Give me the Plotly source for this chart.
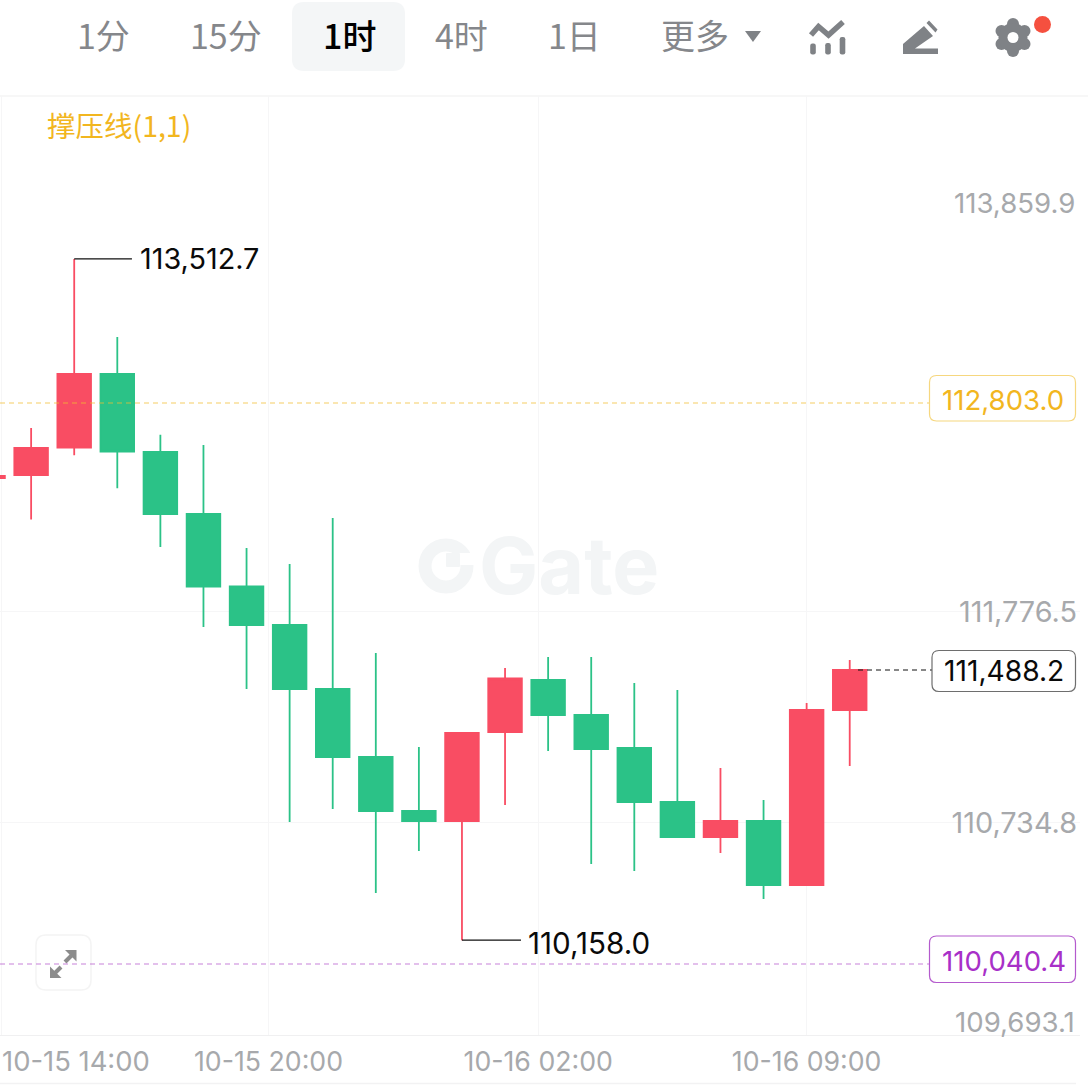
import plotly.graph_objects as go

# ---- data ----
candle_index = list(range(21))
open_p  = [112433.7,112448.4,112583.9,112945.8,112561.7,112256.4,111899.4,111709.8,111394.6,111059.8,110793.8,110744.6,111182.9,111438.9,111266.6,111104.1,110838.2,110665.8,110744.6,110429.4,111291.2]
close_p = [112443.5,112581.4,112945.8,112564.2,112256.4,111899.4,111709.8,111394.6,111059.8,110793.8,110744.6,111177.9,111446.3,111266.6,111099.1,110838.2,110665.8,110744.6,110429.4,111291.2,111488.2]
high_p  = [112443.5,112679.9,113512.7,113128.0,112646.9,112596.2,112089.0,112010.2,112236.7,111571.9,111109.0,111177.9,111498.0,111552.2,111552.2,111424.2,111389.7,111005.6,110848.0,111325.7,111537.4]
low_p   = [112433.7,112229.3,112545.4,112382.9,112093.9,111699.9,111394.6,110739.7,110803.7,110390.0,110596.9,110158.0,110823.4,111089.3,110532.8,110498.4,110665.8,110587.0,110360.4,110429.4,111015.4]

y_tick_values = [113859.9, 111776.5, 110734.8, 109693.1]
y_tick_labels = ["", "111,776.5", "110,734.8", ""]
x_tick_values = [0.32, 6.51, 12.77, 19.0]
x_tick_labels = ["", "10-15 20:00", "10-16 02:00", "10-16 09:00"]
resistance = 112803.0
support = 110040.4
last_price = 111488.2
tabs = ["1分", "15分", "4时", "1日", "更多"]

# ---- colours / layout constants ----
UP, DOWN = "#F94D63", "#2BC287"
GRAY, TAB = "#A7A9AC", "#85878B"
ICON = "#7F8286"
YEL, PUR = "#F2B61F", "#A830C8"
GRID = "#F6F6F7"
W, H = 1088, 1092
L, R, T, B = 0, 1080, 96, 1035
NUM = 27.6

def X(px): return (px - L) / (R - L)
def Y(py): return (B - py) / (B - T)

def pts(points, close=True):
    s = "M " + " L ".join(f"{X(a):.5f},{Y(b):.5f}" for a, b in points)
    return s + (" Z" if close else "")

def rrect(x0, y0, x1, y1, r):
    rx, ry = r / (R - L), r / (B - T)
    a, b, c, d = X(x0), Y(y0), X(x1), Y(y1)
    return (f"M {a+rx:.5f},{b:.5f} L {c-rx:.5f},{b:.5f} Q {c:.5f},{b:.5f} {c:.5f},{b-ry:.5f} "
            f"L {c:.5f},{d+ry:.5f} Q {c:.5f},{d:.5f} {c-rx:.5f},{d:.5f} L {a+rx:.5f},{d:.5f} "
            f"Q {a:.5f},{d:.5f} {a:.5f},{d+ry:.5f} L {a:.5f},{b-ry:.5f} Q {a:.5f},{b:.5f} {a+rx:.5f},{b:.5f} Z")

shapes, ann = [], []

def path(d, fill=None, line=None, w=0, layer="above"):
    shapes.append(dict(type="path", xref="paper", yref="paper", path=d, layer=layer,
                       fillcolor=fill or "rgba(0,0,0,0)", line=dict(color=line or "rgba(0,0,0,0)", width=w)))

def circle(cx, cy, r, fill=None, line=None, w=0, layer="above"):
    shapes.append(dict(type="circle", xref="paper", yref="paper", layer=layer,
                       x0=X(cx - r), x1=X(cx + r), y0=Y(cy + r), y1=Y(cy - r),
                       fillcolor=fill or "rgba(0,0,0,0)", line=dict(color=line or "rgba(0,0,0,0)", width=w)))

def text(px, py, s, size=NUM, color="#0A0A0A", anchor="left", family="Inter", weight=None):
    f = dict(size=size, color=color, family=family)
    if weight: f["weight"] = weight
    ann.append(dict(xref="paper", yref="paper", x=X(px), y=Y(py), text=s, showarrow=False,
                    xanchor=anchor, yanchor="middle", font=f, borderpad=0))

CJK = "Noto Sans CJK SC, Inter"

# header
path(rrect(292, 2, 405, 71, 12), fill="#F4F6F7")
text(103.5, 34.5, tabs[0], 34, TAB, "center", CJK)
text(226, 34.5, tabs[1], 34, TAB, "center", CJK)
text(349, 34.5, "1时", 34, "#000000", "center", CJK, weight=500)
text(461, 34.5, tabs[2], 34, TAB, "center", CJK)
text(574, 34.5, tabs[3], 34, TAB, "center", CJK)
text(695, 34.5, tabs[4], 34, TAB, "center", CJK)
path(pts([(745, 31), (761, 31), (753, 42)]), fill=ICON)
# chart icon
path(pts([(811, 35), (818.5, 26.5), (828.5, 35), (843, 22)], close=False), line=ICON, w=5.5)
for bx, top in [(813, 43.5), (828, 43), (842.5, 37)]:
    path(rrect(bx - 2.8, top, bx + 2.8, 54.5, 2.2), fill=ICON)
# pencil icon
path(pts([(903, 54), (903, 44), (924, 26), (933, 36), (915, 48.5), (938, 48.5), (938, 54)]), fill=ICON)
path(pts([(929, 20.5), (937.5, 29.5), (935.5, 32.5), (926.5, 23)]), fill=ICON)
# gear icon
for a, b in [(1013, 24), (1013, 51), (1001.5, 31), (1024.5, 31), (1001.5, 44), (1024.5, 44)]:
    circle(a, b, 6, fill=ICON)
circle(1013, 37.5, 14.5, fill=ICON)
circle(1013, 37.5, 5.5, fill="#FFFFFF")
circle(1042.5, 24.5, 8.5, fill="#F5503F")

# frame lines
path(pts([(0, 96), (1088, 96)], close=False), line="#F4F4F5", w=1.5, layer="below")
path(pts([(0, 1083.5), (1076, 1083.5)], close=False), line="#F2F2F3", w=1.5, layer="below")

# watermark
circle(446, 566, 21, line="#F3F5F6", w=13, layer="below")
path(pts([(447, 553), (478, 553), (478, 565), (447, 565)]), fill="#FFFFFF", layer="below")
path(rrect(446, 553, 460, 567, 1), fill="#F3F5F6", layer="below")
text(568.5, 565, "Gate", 79, "#F3F5F6", "center", "Inter", weight=700)

# legend
text(46, 124.5, "撑压线(1,1)", 28.5, YEL, "left", CJK)

# fullscreen button
path(rrect(36, 935, 91, 990, 10), fill="#FFFFFF", line="#F4F4F4", w=1.5)
path(pts([(76.5, 950), (65, 950), (76.5, 961.5)]), fill="#8C8C8C")
path(pts([(50, 978), (61.5, 978), (50, 966.5)]), fill="#8C8C8C")
path(pts([(72, 955), (65, 962)], close=False), line="#8C8C8C", w=4)
path(pts([(55, 973), (61, 967)], close=False), line="#8C8C8C", w=4)

# price lines
shapes.append(dict(type="line", xref="paper", yref="y", x0=0, x1=X(929), y0=resistance, y1=resistance,
                   line=dict(color="rgba(242,190,50,0.75)", width=1.2, dash="5px,4px"), layer="above"))
shapes.append(dict(type="line", xref="paper", yref="y", x0=0, x1=X(929), y0=support, y1=support,
                   line=dict(color="rgba(180,90,205,0.75)", width=1.2, dash="5px,4px"), layer="above"))
shapes.append(dict(type="line", xref="paper", yref="y", x0=X(858), x1=X(932), y0=last_price, y1=last_price,
                   line=dict(color="#111111", width=1, dash="5px,4px"), layer="above"))

# price tags
path(rrect(929.5, 375.5, 1075.5, 421, 7), fill="#FFFFFF", line="#F6D77F", w=1.2)
text(1003, 400, f"{resistance:,.1f}", NUM, YEL, "center")
path(rrect(929.5, 936, 1075.5, 982.5, 7), fill="#FFFFFF", line="#B45ACD", w=1.2)
text(1003.5, 960.5, f"{support:,.1f}", NUM, PUR, "center")
path(rrect(932, 650.5, 1075.5, 691.5, 7), fill="#FFFFFF", line="#6E6E6E", w=1.2)
text(1004, 671, f"{last_price:,.1f}", 28.2, "#0A0A0A", "center")

# clamped axis labels
text(1076, 203, f"{y_tick_values[0]:,.1f}", NUM, GRAY, "right")
text(1076, 1021.5, f"{y_tick_values[3]:,.1f}", NUM, GRAY, "right")
text(1, 1061, "10-15 14:00", 27.4, GRAY, "left")

# high/low callouts
i_hi, i_lo = high_p.index(max(high_p)), low_p.index(min(low_p))
fig = go.Figure()
fig.add_trace(go.Candlestick(
    x=candle_index, open=open_p, high=high_p, low=low_p, close=close_p,
    increasing=dict(line=dict(color=UP, width=1.8), fillcolor=UP),
    decreasing=dict(line=dict(color=DOWN, width=1.8), fillcolor=DOWN),
    whiskerwidth=0, showlegend=False, hoverinfo="skip"))
fig.add_trace(go.Scatter(x=[i_hi, i_hi + 1.34], y=[max(high_p)] * 2, mode="lines",
                         line=dict(color="#111111", width=1.2), showlegend=False, hoverinfo="skip"))
fig.add_trace(go.Scatter(x=[i_lo, i_lo + 1.37], y=[min(low_p)] * 2, mode="lines",
                         line=dict(color="#111111", width=1.2), showlegend=False, hoverinfo="skip"))
ann.append(dict(xref="x", yref="y", x=i_hi + 1.34, y=max(high_p), text=f"{max(high_p):,.1f}", showarrow=False,
                xanchor="left", yanchor="middle", xshift=6, font=dict(size=28.8, color="#0A0A0A", family="Inter")))
ann.append(dict(xref="x", yref="y", x=i_lo + 1.37, y=min(low_p), text=f"{min(low_p):,.1f}", showarrow=False,
                xanchor="left", yanchor="middle", xshift=5, yshift=-3, font=dict(size=29.6, color="#0A0A0A", family="Inter")))

fig.update_layout(
    width=W, height=H, margin=dict(l=L, r=W - R, t=T, b=H - B, pad=0),
    paper_bgcolor="#FFFFFF", plot_bgcolor="#FFFFFF", boxgap=0.22, boxgroupgap=0, showlegend=False,
    shapes=shapes, annotations=ann, dragmode=False,
    font=dict(family="Inter", size=NUM, color=GRAY),
    xaxis=dict(range=[0.2775, 25.345], rangeslider=dict(visible=False), tickmode="array",
               tickvals=x_tick_values, ticktext=x_tick_labels, showgrid=True, gridcolor=GRID, gridwidth=1,
               zeroline=False, showline=True, linecolor="#F0F0F1", ticks="", ticklabelstandoff=3,
               tickfont=dict(size=26.7, color=GRAY, family="Inter")),
    yaxis=dict(range=[109690.8, 114314.8], side="right", tickmode="array", tickvals=y_tick_values[1:],
               ticktext=y_tick_labels[1:], ticklabelposition="inside", showgrid=True, gridcolor=GRID, gridwidth=1,
               zeroline=False, showline=False, ticks="", tickfont=dict(size=28.8, color=GRAY, family="Inter")),
)
fig.write_html("out.html", config=dict(displayModeBar=False, staticPlot=True),
               post_script="document.body.style.margin='0';document.body.style.overflow='hidden';")
